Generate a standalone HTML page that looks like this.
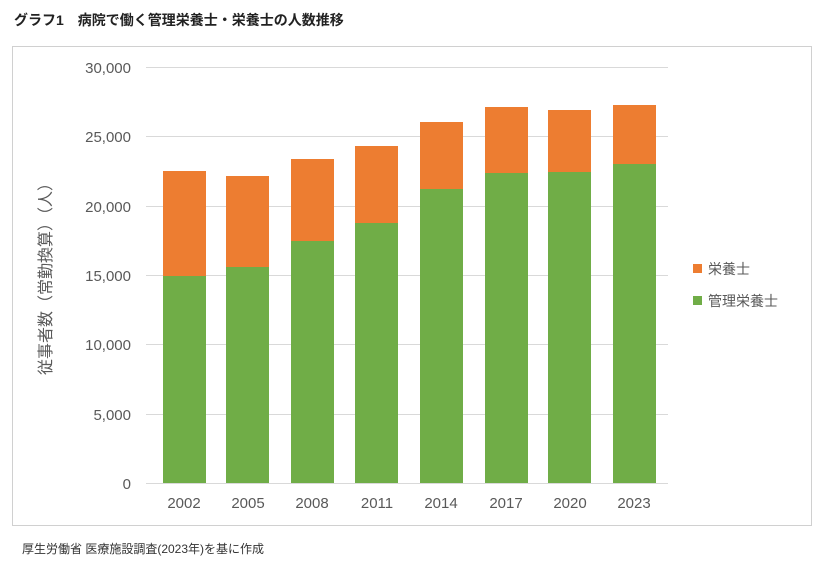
<!DOCTYPE html>
<html><head><meta charset="utf-8"><style>
body{margin:0;background:#fff;width:828px;height:570px;overflow:hidden;font-family:"Liberation Sans","Noto Sans CJK JP",sans-serif;}
</style></head><body>
<svg width="828" height="570" xmlns="http://www.w3.org/2000/svg" font-family="Liberation Sans, Noto Sans CJK JP, sans-serif">
<text x="14" y="25" font-size="14" font-weight="bold" fill="#222">グラフ1　病院で働く管理栄養士・栄養士の人数推移</text>
<rect x="12.5" y="46.5" width="799" height="479" fill="#fff" stroke="#d0d0d0"/>
<g stroke="#d9d9d9" stroke-width="1">
<line x1="146" x2="668" y1="67.5" y2="67.5"/><line x1="146" x2="668" y1="136.5" y2="136.5"/>
<line x1="146" x2="668" y1="206.5" y2="206.5"/><line x1="146" x2="668" y1="275.5" y2="275.5"/>
<line x1="146" x2="668" y1="344.5" y2="344.5"/><line x1="146" x2="668" y1="414.5" y2="414.5"/>
<line x1="146" x2="668" y1="483.5" y2="483.5"/>
</g>
<g font-size="15" fill="#595959" text-anchor="end">
<text x="131" y="73">30,000</text><text x="131" y="142">25,000</text><text x="131" y="212">20,000</text>
<text x="131" y="281">15,000</text><text x="131" y="350">10,000</text><text x="131" y="420">5,000</text><text x="131" y="489">0</text>
</g>
<text transform="translate(51,275) rotate(-90)" font-size="16" fill="#595959" text-anchor="middle">従事者数（常勤換算）（人）</text>
<g>
<rect x="163" y="171" width="43" height="105" fill="#ED7D31"/><rect x="163" y="276" width="43" height="207" fill="#70AD47"/>
<rect x="226" y="176" width="43" height="91" fill="#ED7D31"/><rect x="226" y="267" width="43" height="216" fill="#70AD47"/>
<rect x="291" y="159" width="43" height="82" fill="#ED7D31"/><rect x="291" y="241" width="43" height="242" fill="#70AD47"/>
<rect x="355" y="146" width="43" height="77" fill="#ED7D31"/><rect x="355" y="223" width="43" height="260" fill="#70AD47"/>
<rect x="420" y="122" width="43" height="67" fill="#ED7D31"/><rect x="420" y="189" width="43" height="294" fill="#70AD47"/>
<rect x="485" y="107" width="43" height="66" fill="#ED7D31"/><rect x="485" y="173" width="43" height="310" fill="#70AD47"/>
<rect x="548" y="110" width="43" height="62" fill="#ED7D31"/><rect x="548" y="172" width="43" height="311" fill="#70AD47"/>
<rect x="613" y="105" width="43" height="59" fill="#ED7D31"/><rect x="613" y="164" width="43" height="319" fill="#70AD47"/>
</g>
<g font-size="15" fill="#595959" text-anchor="middle">
<text x="184" y="508">2002</text><text x="248" y="508">2005</text><text x="312" y="508">2008</text><text x="377" y="508">2011</text>
<text x="441" y="508">2014</text><text x="506" y="508">2017</text><text x="570" y="508">2020</text><text x="634" y="508">2023</text>
</g>
<rect x="693" y="264" width="9" height="9" fill="#ED7D31"/>
<text x="708" y="274" font-size="14" fill="#595959">栄養士</text>
<rect x="693" y="296" width="9" height="9" fill="#70AD47"/>
<text x="708" y="306" font-size="14" fill="#595959">管理栄養士</text>
<text x="22" y="553" font-size="12" fill="#333">厚生労働省 医療施設調査(2023年)を基に作成</text>
</svg>
</body></html>
